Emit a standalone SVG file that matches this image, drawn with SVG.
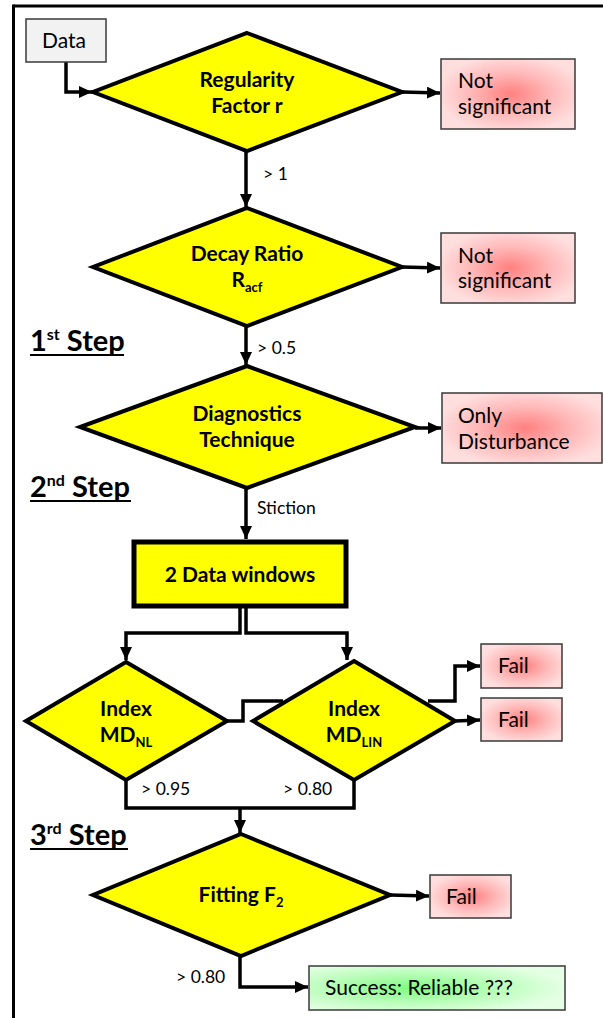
<svg xmlns="http://www.w3.org/2000/svg" width="603" height="1018" viewBox="0 0 603 1018">
  <defs>
    <radialGradient id="pinkFill" cx="0.52" cy="0.5" r="0.55">
      <stop offset="0" stop-color="#ff8080"/>
      <stop offset="0.55" stop-color="#ffb9b9"/>
      <stop offset="1" stop-color="#ffdede"/>
    </radialGradient>
    <radialGradient id="greenFill" cx="0.4" cy="0.5" r="0.6">
      <stop offset="0" stop-color="#80fa80"/>
      <stop offset="0.5" stop-color="#b4fdb4"/>
      <stop offset="1" stop-color="#e4ffe4"/>
    </radialGradient>
    <marker id="arrow" markerUnits="userSpaceOnUse" markerWidth="14" markerHeight="12" refX="13" refY="6" orient="auto">
      <path d="M0,0 L13,6 L0,12 z" fill="#000"/>
    </marker>
  </defs>
  <style>
    .frame { stroke: #000; stroke-width: 3; fill: none; }
    .decision { fill: #ffff00; stroke: #000; stroke-width: 4; stroke-linejoin: miter; }
    .process { fill: #ffff00; stroke: #000; stroke-width: 5; }
    .reject { fill: url(#pinkFill); stroke: #3a3a3a; stroke-width: 1.5; }
    .accept { fill: url(#greenFill); stroke: #3a3a3a; stroke-width: 1.5; }
    .input { fill: #f2f2f2; stroke: #3a3a3a; stroke-width: 1.5; }
    .link { fill: none; stroke: #000; stroke-width: 3.5; stroke-linejoin: miter; }
    .arrowed { marker-end: url(#arrow); }
    .bold { font-family: Lato, "Liberation Sans", sans-serif; font-weight: bold; font-size: 21px; fill: #000; text-anchor: middle; }
    .plain { font-family: Lato, "Liberation Sans", sans-serif; font-size: 21px; fill: #000; }
    .cond { font-family: Lato, "Liberation Sans", sans-serif; font-size: 17.5px; fill: #000; }
    .step { font-family: Lato, "Liberation Sans", sans-serif; font-weight: bold; font-size: 29px; fill: #000; }
    .sup { font-size: 16px; }
    .sub { font-size: 13px; }
    .underline { stroke: #000; stroke-width: 2; }
  </style>

  <!-- page frame: top and left rules -->
  <g id="frame">
    <line class="frame" x1="13.5" y1="6" x2="603" y2="6"/>
    <line class="frame" x1="13.5" y1="4.5" x2="13.5" y2="1018"/>
  </g>

  <!-- step headings -->
  <g id="step1">
    <text class="step" x="30" y="351">1<tspan class="sup" dy="-11">st</tspan><tspan dy="11"> Step</tspan></text>
    <line class="underline" x1="30" y1="355" x2="124" y2="355"/>
  </g>
  <g id="step2">
    <text class="step" x="30" y="497">2<tspan class="sup" dy="-11">nd</tspan><tspan dy="11"> Step</tspan></text>
    <line class="underline" x1="30" y1="501" x2="131" y2="501"/>
  </g>
  <g id="step3">
    <text class="step" x="30" y="845">3<tspan class="sup" dy="-11">rd</tspan><tspan dy="11"> Step</tspan></text>
    <line class="underline" x1="30" y1="849" x2="128" y2="849"/>
  </g>

  <!-- connectors -->
  <g id="connectors">
    <polyline class="link arrowed" points="66,62 66,92 92,92"/>
    <line class="link arrowed" x1="402" y1="92" x2="440" y2="93"/>
    <line class="link arrowed" x1="246" y1="151" x2="246" y2="207"/>
    <line class="link arrowed" x1="402" y1="267" x2="440" y2="268"/>
    <line class="link arrowed" x1="246" y1="326" x2="246" y2="365"/>
    <line class="link arrowed" x1="415" y1="428" x2="441" y2="428"/>
    <line class="link arrowed" x1="246" y1="488" x2="246" y2="539"/>
    <polyline class="link arrowed" points="240,607 240,633 126,633 126,660"/>
    <polyline class="link arrowed" points="246,607 246,633 347,633 347,660"/>
    <polyline class="link" points="227,721 243,721 243,701 283,701"/>
    <polyline class="link arrowed" points="428,701 455,701 455,666 480,666"/>
    <line class="link arrowed" x1="455" y1="721" x2="480" y2="720"/>
    <polyline class="link" points="126,780 126,808 354,808 354,780"/>
    <line class="link arrowed" x1="240" y1="808" x2="240" y2="833"/>
    <line class="link arrowed" x1="390" y1="895" x2="429" y2="896"/>
    <polyline class="link arrowed" points="240,956 240,987 308,987"/>

    <text class="cond" x="263" y="180">&gt; 1</text>
    <text class="cond" x="257" y="354">&gt; 0.5</text>
    <text class="cond" x="257" y="514">Stiction</text>
    <text class="cond" x="141" y="795">&gt; 0.95</text>
    <text class="cond" x="283" y="795">&gt; 0.80</text>
    <text class="cond" x="176" y="983">&gt; 0.80</text>
  </g>

  <!-- input -->
  <g id="data">
    <rect class="input" x="26" y="19" width="80" height="43"/>
    <text class="plain" x="42" y="48">Data</text>
  </g>

  <!-- stage 1 decisions -->
  <g id="regularity">
    <polygon class="decision" points="247,33 402,92 247,151 93,92"/>
    <text class="bold" x="247" y="87">Regularity</text>
    <text class="bold" x="247" y="113">Factor r</text>
  </g>
  <g id="not-significant-1">
    <rect class="reject" x="441" y="59" width="134" height="70"/>
    <text class="plain" x="458" y="88">Not</text>
    <text class="plain" x="458" y="114">significant</text>
  </g>

  <g id="decay-ratio">
    <polygon class="decision" points="247,208 402,267 247,326 93,267"/>
    <text class="bold" x="247" y="261">Decay Ratio</text>
    <text class="bold" x="247" y="287">R<tspan class="sub" dy="5">acf</tspan></text>
  </g>
  <g id="not-significant-2">
    <rect class="reject" x="441" y="233" width="134" height="70"/>
    <text class="plain" x="458" y="263">Not</text>
    <text class="plain" x="458" y="288">significant</text>
  </g>

  <g id="diagnostics">
    <polygon class="decision" points="247,366 415,427 247,488 80,427"/>
    <text class="bold" x="247" y="421">Diagnostics</text>
    <text class="bold" x="247" y="447">Technique</text>
  </g>
  <g id="only-disturbance">
    <rect class="reject" x="442" y="393" width="160" height="70"/>
    <text class="plain" x="458" y="423">Only</text>
    <text class="plain" x="458" y="449">Disturbance</text>
  </g>

  <!-- stage 2 -->
  <g id="data-windows">
    <rect class="process" x="134" y="542" width="212" height="64"/>
    <text class="bold" x="240" y="582">2 Data windows</text>
  </g>

  <g id="index-md-nl">
    <polygon class="decision" points="126,662 227,721 126,780 26,721"/>
    <text class="bold" x="126" y="716">Index</text>
    <text class="bold" x="126" y="742">MD<tspan class="sub" dy="5">NL</tspan></text>
  </g>

  <g id="index-md-lin">
    <polygon class="decision" points="354,661 455,721 354,780 253,721"/>
    <text class="bold" x="354" y="716">Index</text>
    <text class="bold" x="354" y="742">MD<tspan class="sub" dy="5">LIN</tspan></text>
  </g>
  <g id="fail-1">
    <rect class="reject" x="481" y="644" width="81" height="44"/>
    <text class="plain" x="498" y="673">Fail</text>
  </g>
  <g id="fail-2">
    <rect class="reject" x="481" y="698" width="81" height="43"/>
    <text class="plain" x="498" y="727">Fail</text>
  </g>

  <!-- stage 3 -->
  <g id="fitting">
    <polygon class="decision" points="241,834 390,895 241,956 93,895"/>
    <text class="bold" x="241" y="902">Fitting F<tspan class="sub" dy="5">2</tspan></text>
  </g>
  <g id="fail-3">
    <rect class="reject" x="430" y="875" width="81" height="43"/>
    <text class="plain" x="446" y="904">Fail</text>
  </g>
  <g id="success">
    <rect class="accept" x="309" y="966" width="256" height="44"/>
    <text class="plain" x="325" y="995">Success: Reliable ???</text>
  </g>
</svg>
